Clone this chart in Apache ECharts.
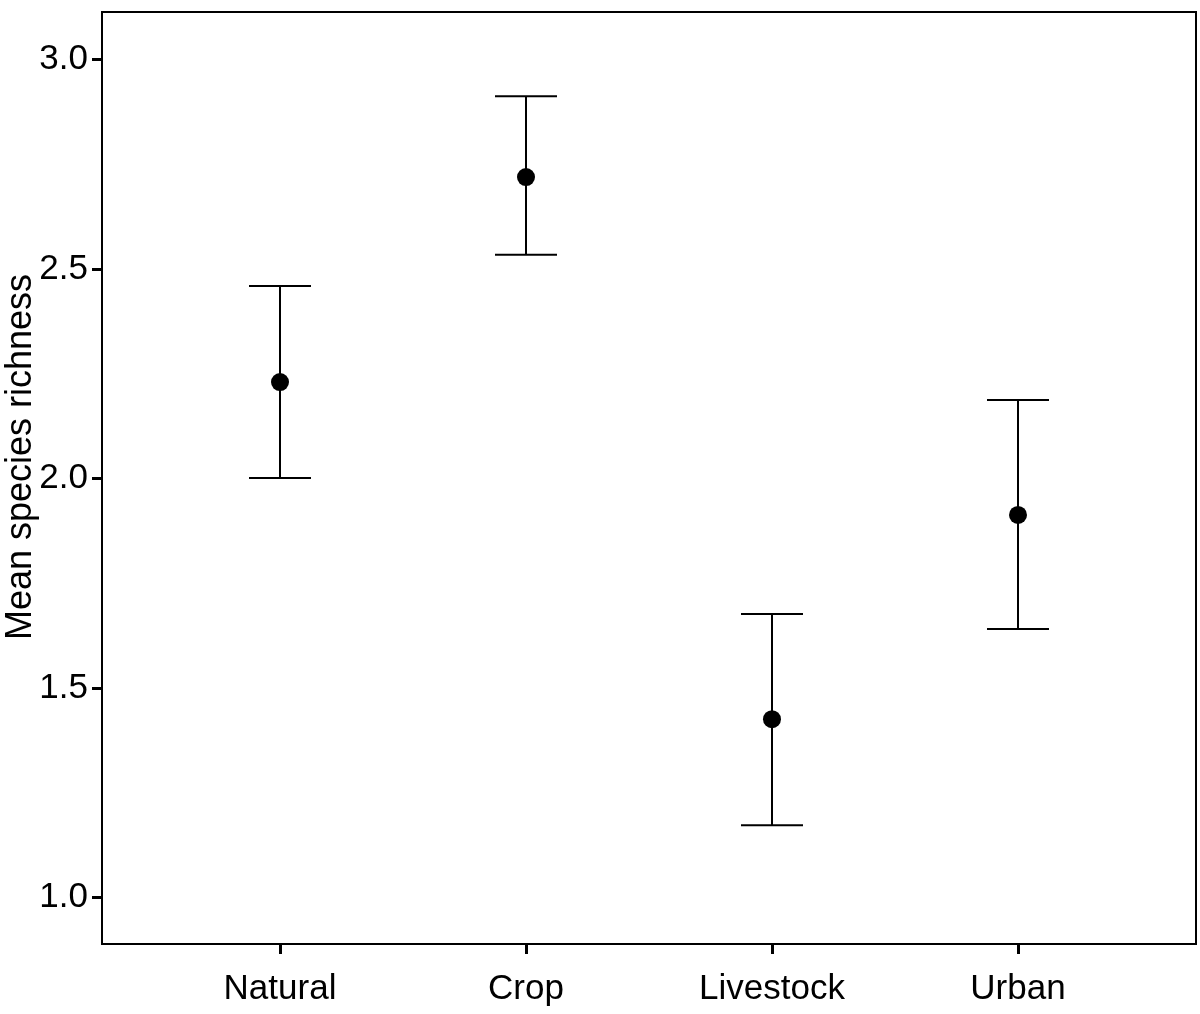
<!DOCTYPE html>
<html>
<head>
<meta charset="utf-8">
<script src="https://cdn.jsdelivr.net/npm/echarts@6/dist/echarts.min.js"></script>
<style>html,body{margin:0;padding:0;background:#fff;}#c{width:1200px;height:1014px;}</style>
</head>
<body>
<div id="c"></div>
<script>
var categories = ['Natural', 'Crop', 'Livestock', 'Urban'];
var means = [2.230, 2.719, 1.426, 1.913];
var upper = [2.459, 2.912, 1.677, 2.187];
var lower = [2.001, 2.534, 1.173, 1.641];
var yTicks = [1.0, 1.5, 2.0, 2.5, 3.0];
var xPositions = [1, 2, 3, 4];

var FONT = '"Liberation Sans", Arial, Helvetica, sans-serif';
var chart = echarts.init(document.getElementById('c'));

var meanData = xPositions.map(function (x, i) { return [x, means[i]]; });
var errData = xPositions.map(function (x, i) { return [x, lower[i], upper[i]]; });

chart.setOption({
  animation: false,
  backgroundColor: '#fff',
  grid: { left: 102, top: 12, right: 4, bottom: 70, show: true, borderColor: '#000', borderWidth: 2, containLabel: false },
  xAxis: {
    type: 'value', min: 0.2764, max: 4.7236,
    splitLine: { show: false },
    axisLine: { show: true, lineStyle: { color: '#000', width: 2 } },
    axisTick: { show: true, length: 10, customValues: xPositions, lineStyle: { color: '#000', width: 3 } },
    axisLabel: {
      customValues: xPositions, margin: 28,
      color: '#000', fontSize: 35, fontFamily: FONT,
      formatter: function (v) { return categories[Math.round(v) - 1] || ''; }
    }
  },
  yAxis: {
    type: 'value', min: 0.8896, max: 3.1128,
    splitLine: { show: false },
    axisLine: { show: true, lineStyle: { color: '#000', width: 2 } },
    axisTick: { show: true, length: 10, customValues: yTicks, lineStyle: { color: '#000', width: 3 } },
    axisLabel: {
      customValues: yTicks, margin: 14,
      color: '#000', fontSize: 35, fontFamily: FONT,
      formatter: function (v) { return v.toFixed(1); }
    }
  },
  graphic: [{
    type: 'text', x: 21, y: 457, rotation: Math.PI / 2,
    style: { text: 'Mean species richness', fontSize: 36, fontFamily: FONT, fill: '#000', align: 'center', verticalAlign: 'middle' }
  }],
  series: [{
    type: 'custom',
    data: errData,
    renderItem: function (params, api) {
      var x = api.value(0);
      var lo = api.coord([x, api.value(1)]);
      var hi = api.coord([x, api.value(2)]);
      var hw = 31;
      var st = { stroke: '#000', lineWidth: 2 };
      return {
        type: 'group',
        children: [
          { type: 'line', shape: { x1: lo[0], y1: lo[1], x2: hi[0], y2: hi[1] }, style: st },
          { type: 'line', shape: { x1: hi[0] - hw, y1: hi[1], x2: hi[0] + hw, y2: hi[1] }, style: st },
          { type: 'line', shape: { x1: lo[0] - hw, y1: lo[1], x2: lo[0] + hw, y2: lo[1] }, style: st }
        ]
      };
    },
    z: 2
  }, {
    type: 'scatter',
    data: meanData,
    symbol: 'circle',
    symbolSize: 18,
    itemStyle: { color: '#000', opacity: 1 },
    z: 3
  }]
});
</script>
</body>
</html>
